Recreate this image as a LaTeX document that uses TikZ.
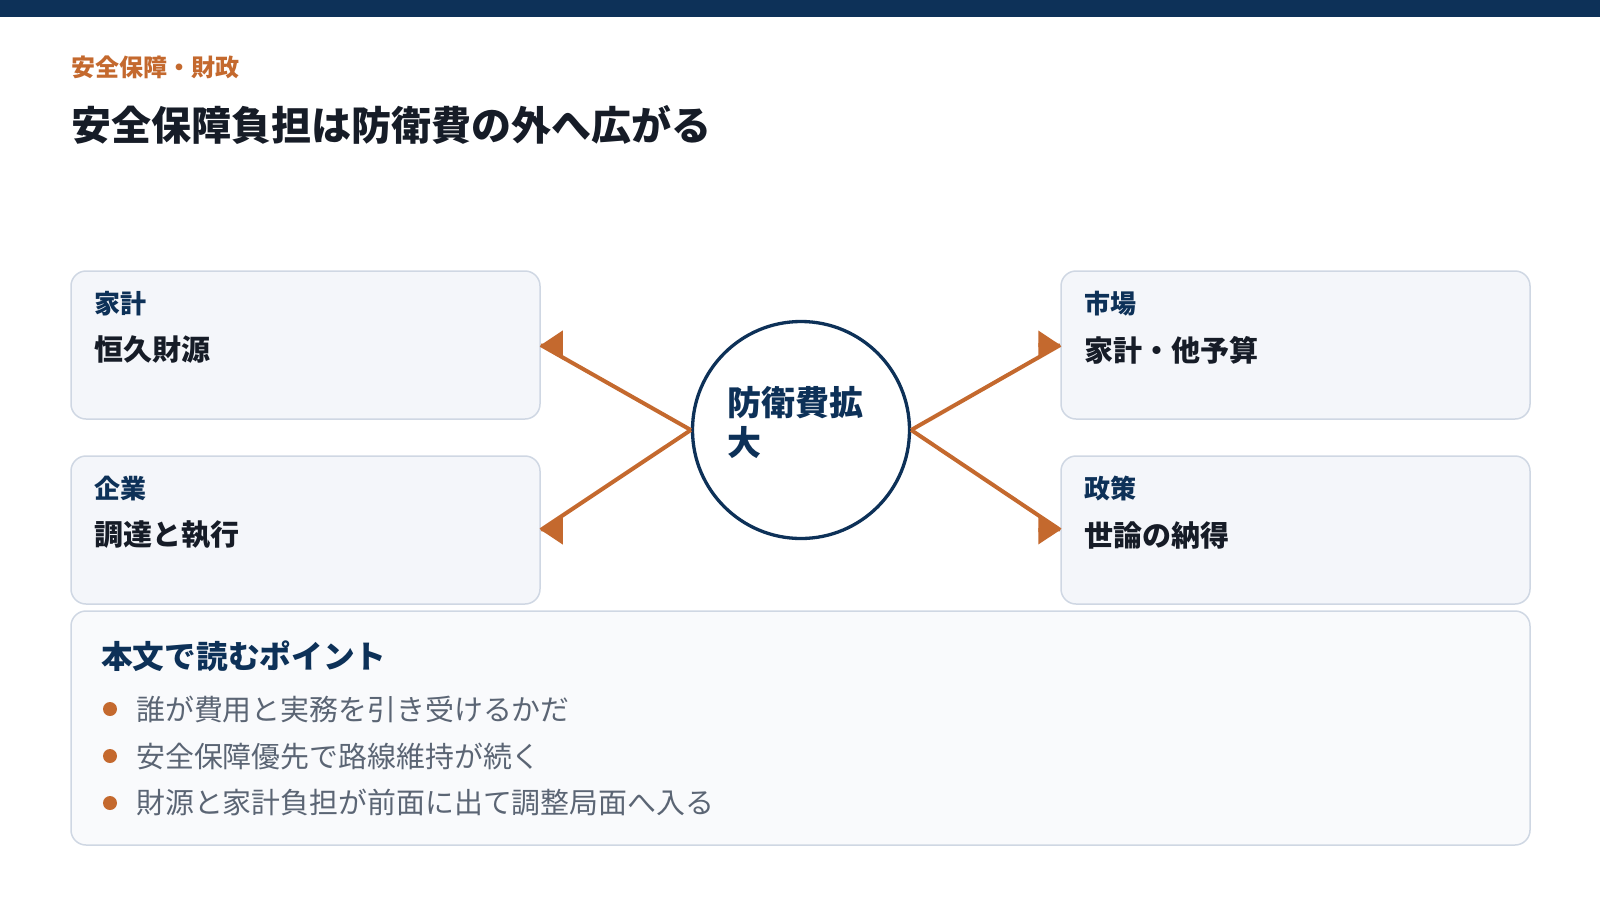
\documentclass[tikz,border=0pt]{standalone}
\usepackage{fontspec}
\setmainfont{Noto Sans CJK JP}
\usepackage{xcolor}
\usetikzlibrary{positioning}
\usetikzlibrary{arrows.meta}
\usetikzlibrary{calc}

\definecolor{navy}{HTML}{0D3158}
\definecolor{rust}{HTML}{C4692E}
\definecolor{ink}{HTML}{161C27}
\definecolor{grey}{HTML}{5B6574}
\definecolor{edge}{HTML}{CFD7E3}
\definecolor{cardbg}{HTML}{F4F6FA}
\definecolor{notebg}{HTML}{F9FAFC}

\begin{document}
\begin{tikzpicture}[x=1pt, y=-1pt,
    card/.style={draw=edge, line width=1.5pt, fill=cardbg, rounded corners=15pt, minimum width=469pt, minimum height=148pt},
    tag/.style={anchor=west, inner sep=0pt, text=navy, font=\bfseries\fontsize{26}{30}\selectfont},
    body/.style={anchor=west, inner sep=0pt, text=ink, font=\bfseries\fontsize{29}{34}\selectfont},
    hubnode/.style={circle, draw=navy, line width=3.3pt, fill=white, minimum size=217pt, text width=148pt, align=left, text depth=58.5pt, text=navy, font=\bfseries\fontsize{34}{40}\selectfont},
    link/.style={draw=rust, line width=4pt, -{Triangle[length=22pt, width=28pt]}},
    pt/.style={anchor=west, inner sep=0pt, text=grey, font=\fontsize{28.9}{34}\selectfont}
]
    \useasboundingbox (0,0) rectangle (1600,900);
    \fill[navy] (0,0) rectangle (1600,17);

    % Heading
    \node[anchor=west, inner sep=0pt, text=rust, font=\bfseries\fontsize{24}{28}\selectfont] (cat) at (71,67.5) {安全保障・財政};
    \node[anchor=west, inner sep=0pt, text=ink, font=\bfseries\fontsize{40}{48}\selectfont] (ttl) at (71,125) {安全保障負担は防衛費の外へ広がる};

    % Four cards
    \node[card] (house) at (305.5,345) {};
    \node[card] (firm) at (305.5,530) {};
    \node[card] (market) at (1295.5,345) {};
    \node[card] (policy) at (1295.5,530) {};

    \node[tag] (houseT) at ([shift={(24,-41)}]house.west) {家計};
    \node[body] (houseB) at ([shift={(24,5)}]house.west) {恒久財源};
    \node[tag] (firmT) at ([shift={(24,-41)}]firm.west) {企業};
    \node[body] (firmB) at ([shift={(24,5)}]firm.west) {調達と執行};
    \node[tag] (marketT) at ([shift={(24,-41)}]market.west) {市場};
    \node[body] (marketB) at ([shift={(24,5)}]market.west) {家計・他予算};
    \node[tag] (policyT) at ([shift={(24,-41)}]policy.west) {政策};
    \node[body] (policyB) at ([shift={(24,5)}]policy.west) {世論の納得};

    % Centre
    \node[hubnode] (hub) at (801,430) {防衛費拡\\大};

    \draw[link] (hub.west) -- (house.east) ++(22,0) -- (house.east);
    \draw[link] (hub.west) -- (firm.east) ++(22,0) -- (firm.east);
    \draw[link] (hub.east) -- (market.west) ++(-22,0) -- (market.west);
    \draw[link] (hub.east) -- (policy.west) ++(-22,0) -- (policy.west);

    % Points to read
    \node[card, fill=notebg, minimum width=1459pt, minimum height=234pt] (pts) at (800.5,728) {};
    \node[anchor=west, inner sep=0pt, text=navy, font=\bfseries\fontsize{31.7}{36}\selectfont] (ptsT) at (101,656) {本文で読むポイント};
    \foreach \i/\y/\t in {1/709/誰が費用と実務を引き受けるかだ, 2/756/安全保障優先で路線維持が続く, 3/803/財源と家計負担が前面に出て調整局面へ入る} {
        \fill[rust] (110,\y) circle (7);
        \node[pt] (pt\i) at (136,\y) {\t};
    }
\end{tikzpicture}
\end{document}
